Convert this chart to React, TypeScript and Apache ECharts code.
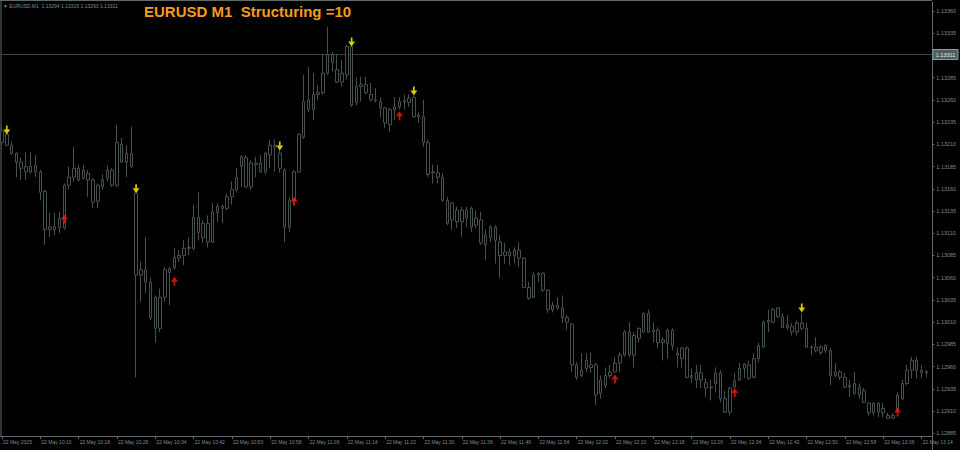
import React, { useEffect, useRef } from "react";
import * as echarts from "echarts";

// 1-minute bars from 10:02 to 13:15 on 22 May 2025
const firstMinute = 10 * 60 + 2;
const barCount = 194;
const categories: string[] = Array.from({ length: barCount }, (_, i) => {
  const t = firstMinute + i;
  return `${Math.floor(t / 60)}:${String(t % 60).padStart(2, "0")}`;
});

// [open, close, low, high]
const ohlc: number[][] = [
  [1.13212, 1.13225, 1.13209, 1.1323], [1.13221, 1.13209, 1.13208, 1.13222], [1.13209, 1.132, 1.13198, 1.13213], [1.132, 1.1319, 1.13173, 1.13201], [1.1319, 1.13183, 1.1317, 1.13195],
  [1.13179, 1.13185, 1.1317, 1.13201], [1.13185, 1.13179, 1.13177, 1.13201], [1.13179, 1.13186, 1.13173, 1.13198], [1.13179, 1.13156, 1.13147, 1.13181], [1.13157, 1.13114, 1.13097, 1.13159],
  [1.13114, 1.13117, 1.13106, 1.13133], [1.13117, 1.13114, 1.13108, 1.13133], [1.13116, 1.13127, 1.1311, 1.13134], [1.13116, 1.13164, 1.13114, 1.13166], [1.13164, 1.13173, 1.13159, 1.13185],
  [1.13173, 1.13183, 1.13168, 1.13207], [1.13183, 1.1317, 1.13168, 1.13187], [1.13172, 1.13181, 1.1317, 1.13187], [1.13177, 1.1317, 1.13151, 1.13181], [1.1317, 1.13145, 1.13138, 1.13172],
  [1.13146, 1.13164, 1.13138, 1.13166], [1.13162, 1.1317, 1.13159, 1.13176], [1.13172, 1.13181, 1.13168, 1.13186], [1.13181, 1.13164, 1.13162, 1.13183], [1.13164, 1.13212, 1.13162, 1.13232],
  [1.1321, 1.1319, 1.13189, 1.13217], [1.1319, 1.132, 1.13173, 1.13209], [1.132, 1.13185, 1.13183, 1.1323], [1.13155, 1.13063, 1.12948, 1.13155], [1.13063, 1.13069, 1.13033, 1.13078],
  [1.13069, 1.13055, 1.13043, 1.13106], [1.13055, 1.13015, 1.13012, 1.1306], [1.13038, 1.13003, 1.12987, 1.1304], [1.13003, 1.13038, 1.12999, 1.13048], [1.13038, 1.13069, 1.13033, 1.13072],
  [1.13066, 1.1307, 1.13029, 1.13072], [1.13071, 1.13083, 1.13069, 1.13093], [1.13082, 1.13085, 1.13078, 1.13091], [1.13085, 1.13093, 1.13074, 1.13102], [1.13093, 1.13094, 1.13085, 1.13105],
  [1.13093, 1.13128, 1.13091, 1.13142], [1.13128, 1.13111, 1.13102, 1.13156], [1.13121, 1.13105, 1.13099, 1.13125], [1.131, 1.13121, 1.13094, 1.1313], [1.131, 1.13134, 1.13099, 1.13144],
  [1.13133, 1.1314, 1.13123, 1.13144], [1.1314, 1.13138, 1.13121, 1.13142], [1.13138, 1.13151, 1.13136, 1.13155], [1.13151, 1.13159, 1.13142, 1.13168], [1.13159, 1.13173, 1.13156, 1.13183],
  [1.13185, 1.13196, 1.13162, 1.13198], [1.13195, 1.13162, 1.13161, 1.13198], [1.13162, 1.13189, 1.13159, 1.13192], [1.13189, 1.13187, 1.13173, 1.13196], [1.13189, 1.13179, 1.13178, 1.13198],
  [1.13179, 1.132, 1.13176, 1.13201], [1.13198, 1.13209, 1.13183, 1.13215], [1.13209, 1.13207, 1.13179, 1.13215], [1.132, 1.13183, 1.13178, 1.13204], [1.13181, 1.13117, 1.131, 1.13183],
  [1.13117, 1.13147, 1.13111, 1.1315], [1.13147, 1.13179, 1.13142, 1.13181], [1.13179, 1.13221, 1.13178, 1.13223], [1.13218, 1.13258, 1.13216, 1.13288], [1.13249, 1.1326, 1.13246, 1.13297],
  [1.13249, 1.13266, 1.13237, 1.1329], [1.13266, 1.13268, 1.1326, 1.13277], [1.13268, 1.1329, 1.13266, 1.13311], [1.1329, 1.13311, 1.13288, 1.13342], [1.13311, 1.13302, 1.13292, 1.13314],
  [1.13294, 1.1328, 1.13279, 1.13311], [1.1328, 1.1329, 1.13275, 1.13305], [1.13288, 1.1332, 1.13283, 1.13322], [1.1332, 1.13254, 1.13252, 1.13322], [1.13257, 1.13275, 1.13254, 1.13285],
  [1.13275, 1.13277, 1.13258, 1.13286], [1.13277, 1.13268, 1.13266, 1.13286], [1.13266, 1.1326, 1.13258, 1.13279], [1.1326, 1.13259, 1.13257, 1.13273], [1.13258, 1.13251, 1.1324, 1.13263],
  [1.13251, 1.13234, 1.13228, 1.13252], [1.13232, 1.13249, 1.13224, 1.13251], [1.13249, 1.13252, 1.13237, 1.13263], [1.13252, 1.13258, 1.13249, 1.13263], [1.13258, 1.13259, 1.13249, 1.13266],
  [1.13257, 1.13262, 1.13252, 1.13266], [1.13263, 1.13241, 1.1324, 1.13264], [1.13241, 1.13243, 1.13234, 1.13246], [1.13241, 1.13212, 1.13207, 1.1326], [1.13212, 1.13176, 1.13173, 1.13215],
  [1.13178, 1.13179, 1.13166, 1.13187], [1.13178, 1.13173, 1.13166, 1.13187], [1.13173, 1.13147, 1.13145, 1.13178], [1.13147, 1.13121, 1.13119, 1.13151], [1.13125, 1.13144, 1.13114, 1.13145],
  [1.13136, 1.13123, 1.13116, 1.1314], [1.13123, 1.13136, 1.13106, 1.1314], [1.13136, 1.13127, 1.13117, 1.1314], [1.13138, 1.13117, 1.13111, 1.1314], [1.13119, 1.13127, 1.13116, 1.13136],
  [1.13125, 1.13099, 1.13097, 1.13134], [1.13097, 1.13108, 1.1308, 1.13114], [1.13105, 1.13117, 1.131, 1.13119], [1.13117, 1.13102, 1.13076, 1.13119], [1.131, 1.13085, 1.1306, 1.13108],
  [1.13085, 1.13089, 1.13076, 1.13099], [1.13089, 1.13085, 1.13074, 1.13093], [1.13085, 1.13091, 1.13076, 1.13094], [1.13091, 1.13082, 1.13072, 1.131], [1.13082, 1.13049, 1.13048, 1.13083],
  [1.13049, 1.13037, 1.13035, 1.13055], [1.13038, 1.13063, 1.13037, 1.13066], [1.13063, 1.13065, 1.13055, 1.13066], [1.13065, 1.13046, 1.13044, 1.13066], [1.13046, 1.13024, 1.1302, 1.13047],
  [1.13024, 1.13029, 1.13021, 1.13033], [1.13029, 1.13026, 1.13024, 1.13038], [1.13026, 1.13015, 1.13009, 1.1304], [1.13015, 1.1301, 1.13001, 1.13018], [1.13008, 1.12962, 1.12954, 1.13009],
  [1.12962, 1.12948, 1.12945, 1.12965], [1.1295, 1.12956, 1.12948, 1.12975], [1.12958, 1.12967, 1.12954, 1.12975], [1.12962, 1.12959, 1.12953, 1.12976], [1.12962, 1.12928, 1.12917, 1.12964],
  [1.1293, 1.12945, 1.12924, 1.1295], [1.12939, 1.1295, 1.12936, 1.12959], [1.1295, 1.12954, 1.12947, 1.12962], [1.12954, 1.12964, 1.12953, 1.12971], [1.12964, 1.12973, 1.12954, 1.12976],
  [1.12973, 1.12999, 1.12971, 1.13001], [1.12999, 1.12973, 1.12971, 1.1301], [1.12973, 1.12995, 1.12959, 1.12999], [1.12992, 1.13003, 1.12987, 1.13004], [1.12999, 1.1302, 1.12998, 1.13021],
  [1.1302, 1.12999, 1.12998, 1.13024], [1.12999, 1.13001, 1.12987, 1.1301], [1.13001, 1.12987, 1.12981, 1.13004], [1.12987, 1.1299, 1.12967, 1.12993], [1.12986, 1.13001, 1.12969, 1.13003],
  [1.13001, 1.12984, 1.12978, 1.13003], [1.12975, 1.12973, 1.12959, 1.12981], [1.12969, 1.12981, 1.12959, 1.12982], [1.12981, 1.12948, 1.12947, 1.12983], [1.12948, 1.1295, 1.12942, 1.12958],
  [1.12945, 1.12953, 1.12936, 1.12962], [1.12953, 1.12945, 1.12936, 1.12962], [1.12942, 1.12936, 1.12926, 1.12947], [1.12936, 1.12937, 1.12922, 1.12945], [1.12941, 1.12953, 1.12931, 1.12959],
  [1.12953, 1.12924, 1.1292, 1.12956], [1.12924, 1.12909, 1.12908, 1.12933], [1.12909, 1.12936, 1.12905, 1.12937], [1.12937, 1.12944, 1.12936, 1.12953], [1.12945, 1.12958, 1.12944, 1.12964],
  [1.12958, 1.12963, 1.12947, 1.12964], [1.12962, 1.12947, 1.12945, 1.12967], [1.12948, 1.12969, 1.12947, 1.12975], [1.12969, 1.12984, 1.12965, 1.12987], [1.12982, 1.1301, 1.12981, 1.13012],
  [1.1301, 1.13012, 1.12999, 1.13024], [1.1301, 1.13024, 1.13009, 1.13026], [1.13016, 1.13026, 1.13015, 1.13027], [1.13016, 1.13004, 1.13003, 1.1302], [1.13004, 1.13007, 1.13001, 1.13018],
  [1.13005, 1.12999, 1.12995, 1.13009], [1.12999, 1.13009, 1.12995, 1.13012], [1.13009, 1.13003, 1.13001, 1.1302], [1.13003, 1.12982, 1.12981, 1.13009], [1.12982, 1.12981, 1.12973, 1.12984],
  [1.12978, 1.12982, 1.12976, 1.12993], [1.12982, 1.12976, 1.12973, 1.12984], [1.12978, 1.12984, 1.12975, 1.12985], [1.12978, 1.1295, 1.12939, 1.12981], [1.1295, 1.12954, 1.12948, 1.12964],
  [1.12954, 1.12948, 1.12945, 1.12956], [1.12948, 1.12937, 1.12936, 1.12953], [1.12937, 1.12939, 1.12926, 1.12945], [1.12941, 1.1293, 1.12928, 1.12954], [1.12928, 1.12937, 1.12924, 1.12941],
  [1.12933, 1.1292, 1.12919, 1.12936], [1.12919, 1.12908, 1.12905, 1.1292], [1.12908, 1.12919, 1.12905, 1.1292], [1.12919, 1.12909, 1.12903, 1.1292], [1.12913, 1.12908, 1.12903, 1.12919],
  [1.12905, 1.12902, 1.12901, 1.12908], [1.12902, 1.12905, 1.12901, 1.12908], [1.12911, 1.12928, 1.1291, 1.12931], [1.12924, 1.12941, 1.12922, 1.12945], [1.12941, 1.12956, 1.12939, 1.12962],
  [1.12956, 1.12967, 1.12947, 1.12971], [1.12967, 1.12956, 1.12947, 1.12971], [1.12956, 1.12953, 1.12947, 1.12962], [1.12953, 1.12954, 1.12948, 1.12956],
];

// Structuring signals: yellow down arrows (swing highs), red up arrows (swing lows)
const downArrowBars = [1, 28, 58, 73, 86, 167];
const downArrowPrices = [1.13226, 1.1316, 1.13208, 1.13325, 1.1327, 1.13026];
const upArrowBars = [13, 36, 61, 83, 128, 153, 187];
const upArrowPrices = [1.13126, 1.13056, 1.13146, 1.13242, 1.12946, 1.12931, 1.12909];

// Price scale
const priceMin = 1.12882;
const priceMax = 1.1337;
const priceTickValues = [
  1.12885, 1.1291, 1.12935, 1.1296, 1.12985, 1.1301, 1.13035, 1.1306, 1.13085, 1.1311,
  1.13135, 1.1316, 1.13185, 1.1321, 1.13235, 1.1326, 1.13285, 1.1331, 1.13335, 1.1336,
];
const priceLabelValues = [
  1.12885, 1.1291, 1.12935, 1.1296, 1.12985, 1.1301, 1.13035, 1.1306, 1.13085, 1.1311,
  1.13135, 1.1316, 1.13185, 1.1321, 1.13235, 1.1326, 1.13285, 1.13335, 1.1336,
];
const bidPrice = 1.13311;
const headerText = "▼ EURUSD,M1  1.13294 1.13315 1.13293 1.13311";
const titleText = "EURUSD M1  Structuring =10";
const dateLabel = "22 May 2025";
const dayPrefix = "22 May ";
const labelStep = 8;

const AXIS = "#5e6a68";
const LABEL = "#7f8a8a";
const CANDLE = "#46524f";
const FONT = "Liberation Sans";

const DOWN_ARROW = "path://M3,0 L5,0 L5,4 L8,4 L4,9 L0,4 L3,4 Z";
const UP_ARROW = "path://M4,0 L8,5 L5,5 L5,9 L3,9 L3,5 L0,5 Z";

export default function App() {
  const ref = useRef<HTMLDivElement>(null);

  useEffect(() => {
    if (!ref.current) return;
    const chart = echarts.init(ref.current, undefined, { renderer: "svg" });
    const every = (index: number) => index % labelStep === 0;

    const staticGraphics: any[] = [
      { type: "line", shape: { x1: 1, y1: 0, x2: 1, y2: 436 }, style: { stroke: AXIS, lineWidth: 1 } },
      { type: "line", shape: { x1: 0, y1: 0.5, x2: 932, y2: 0.5 }, style: { stroke: AXIS, lineWidth: 1 } },
      { type: "line", shape: { x1: 0, y1: 436.5, x2: 932.5, y2: 436.5 }, style: { stroke: AXIS, lineWidth: 1 } },
      { type: "line", shape: { x1: 932.5, y1: 436, x2: 932.5, y2: 450 }, style: { stroke: AXIS, lineWidth: 1 } },
      {
        type: "text",
        left: 3,
        top: 3,
        style: { text: headerText, font: `5px "${FONT}"`, fill: LABEL },
      },
      {
        type: "text",
        left: 144,
        top: 4,
        style: { text: titleText, font: `bold 15px "${FONT}"`, fill: "#f39c1f" },
      },
    ];

    chart.setOption({
      animation: false,
      backgroundColor: "#000000",
      grid: { left: 1.7, right: 33.7, top: 2, bottom: 14 },
      xAxis: {
        type: "category",
        data: categories,
        boundaryGap: false,
        axisLine: { show: false },
        axisTick: { show: true, interval: every, length: 3, lineStyle: { color: AXIS, width: 1 } },
        axisLabel: {
          interval: every,
          formatter: (v: string, i: number) => (i === 0 ? dateLabel : dayPrefix + v),
          align: "left",
          fontSize: 5,
          fontFamily: FONT,
          color: LABEL,
          margin: 3,
          padding: [0, 0, 0, 1],
        },
        splitLine: { show: false },
      },
      yAxis: {
        type: "value",
        position: "right",
        offset: 6,
        min: priceMin,
        max: priceMax,
        axisLine: { show: true, lineStyle: { color: AXIS, width: 1 } },
        axisTick: { show: true, length: 2, customValues: priceTickValues, lineStyle: { color: AXIS } },
        axisLabel: {
          customValues: priceLabelValues,
          formatter: (v: number) => v.toFixed(5),
          fontSize: 5.5,
          fontFamily: FONT,
          color: LABEL,
          margin: 4,
        },
        splitLine: { show: false },
      },
      series: [
        {
          type: "candlestick",
          data: ohlc,
          barWidth: 3,
          clip: false,
          itemStyle: {
            color: "#000000",
            color0: "#000000",
            borderColor: CANDLE,
            borderColor0: CANDLE,
            borderColorDoji: CANDLE,
            borderWidth: 1,
          },
        },
        {
          type: "scatter",
          data: downArrowBars.map((b, k) => [b, downArrowPrices[k]]),
          symbol: DOWN_ARROW,
          symbolSize: [7, 9],
          itemStyle: { color: "#ffff00" },
          z: 5,
        },
        {
          type: "scatter",
          data: upArrowBars.map((b, k) => [b, upArrowPrices[k]]),
          symbol: UP_ARROW,
          symbolSize: [7, 9],
          itemStyle: { color: "#ff1a00" },
          z: 5,
        },
      ],
      graphic: staticGraphics,
    });

    // Bid line and its boxed axis label, placed through the price axis
    const bidY = Math.round(chart.convertToPixel({ yAxisIndex: 0 }, bidPrice) as number) + 0.5;
    chart.setOption({
      graphic: [
        ...staticGraphics,
        {
          type: "line",
          shape: { x1: 1, y1: bidY, x2: 932, y2: bidY },
          style: { stroke: "#3a4444", lineWidth: 1 },
          z: 1,
        },
        {
          type: "rect",
          shape: { x: 933, y: bidY - 5, width: 25, height: 10 },
          style: { fill: "#4f5d5d", stroke: "#8c9a9a", lineWidth: 1 },
          z: 10,
        },
        {
          type: "text",
          x: 945.5,
          y: bidY,
          style: {
            text: bidPrice.toFixed(5),
            font: `5.5px "${FONT}"`,
            fill: "#e4eaea",
            align: "center",
            verticalAlign: "middle",
          },
          z: 11,
        },
      ],
    });

    return () => chart.dispose();
  }, []);

  return (
    <div
      ref={ref}
      style={{ position: "fixed", left: 0, top: 0, width: 960, height: 450, background: "#000" }}
    />
  );
}
